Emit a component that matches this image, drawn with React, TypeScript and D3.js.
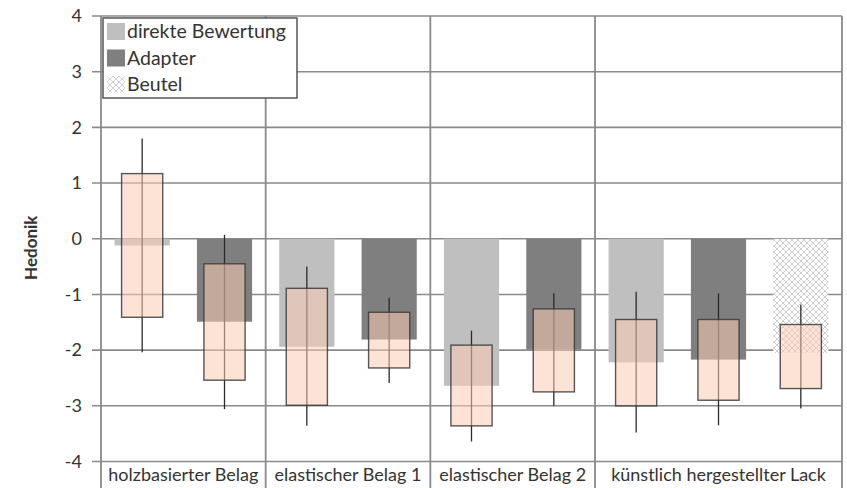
import React from "react";
import * as d3 from "d3";

const categories = ["holzbasierter Belag", "elastischer Belag 1", "elastischer Belag 2", "künstlich hergestellter Lack"];
const seriesNames = ["direkte Bewertung", "Adapter", "Beutel"];
// slot -> [category index, series index]
const slotCategory = [0, 0, 1, 1, 2, 2, 3, 3, 3];
const slotSeries = [0, 1, 0, 1, 0, 1, 0, 1, 2];
const meanValues = [-0.12, -1.49, -1.94, -1.81, -2.64, -1.99, -2.22, -2.17, -2.05];
const boxTop = [1.17, -0.45, -0.89, -1.32, -1.91, -1.26, -1.45, -1.45, -1.54];
const boxBottom = [-1.41, -2.54, -2.99, -2.32, -3.36, -2.75, -3.0, -2.9, -2.69];
const whiskerTop = [1.8, 0.07, -0.5, -1.06, -1.65, -0.98, -0.95, -0.98, -1.18];
const whiskerBottom = [-2.04, -3.06, -3.36, -2.59, -3.64, -3.0, -3.48, -3.35, -3.05];
const yTicks = [4, 3, 2, 1, 0, -1, -2, -3, -4];

const W = 847;
const H = 488;
const FONT = "Lato, 'Open Sans', sans-serif";
const seriesFill = ["#bfbfbf", "#7f7f7f", "url(#hatch)"];

export default function App() {
  const x = d3.scaleBand<number>().domain(d3.range(slotSeries.length)).range([101, 842]).padding(0);
  const y = d3.scaleLinear().domain([-4, 4]).range([461.5, 16]);
  const bw = x.bandwidth();
  const barW = bw * 0.67;
  const boxW = bw * 0.5;

  // category boundaries
  const catStart = categories.map((_, c) => x(slotCategory.indexOf(c))!);
  const catEnd = categories.map((_, c) => x(slotCategory.lastIndexOf(c))! + bw);
  const gridColor = "#8a8a8a";

  return (
    <svg width={W} height={H} style={{ position: "absolute", left: 0, top: 0, background: "#fff" }}>
      <defs>
        <pattern id="hatch" width="6" height="6" patternUnits="userSpaceOnUse">
          <rect width="6" height="6" fill="#fff" />
          <path d="M0,0 L6,6 M6,0 L0,6" stroke="#cfcfcf" strokeWidth="1" />
        </pattern>
      </defs>
      <rect width={W} height={H} fill="#fff" />
      {/* horizontal gridlines */}
      {yTicks.map((t) => (
        <line key={"g" + t} x1={92} x2={842} y1={y(t)} y2={y(t)} stroke={gridColor} strokeWidth={1.6} />
      ))}
      {/* vertical separators */}
      {catStart.map((cx, i) => (
        <line key={"v" + i} x1={cx} x2={cx} y1={y(4)} y2={H} stroke={gridColor} strokeWidth={1.8} />
      ))}
      <line x1={catEnd[3]} x2={catEnd[3]} y1={y(4)} y2={H} stroke={gridColor} strokeWidth={1.8} />
      {/* mean bars */}
      {meanValues.map((v, i) => (
        <rect
          key={"b" + i}
          x={x(i)! + (bw - barW) / 2}
          y={y(Math.max(0, v))}
          width={barW}
          height={Math.abs(y(v) - y(0))}
          fill={seriesFill[slotSeries[i]]}
        />
      ))}
      {/* whiskers */}
      {whiskerTop.map((v, i) => (
        <line
          key={"w" + i}
          x1={x(i)! + bw / 2}
          x2={x(i)! + bw / 2}
          y1={y(v)}
          y2={y(whiskerBottom[i])}
          stroke="#2a2a2a"
          strokeWidth={1.3}
        />
      ))}
      {/* boxes */}
      {boxTop.map((v, i) => (
        <rect
          key={"x" + i}
          x={x(i)! + (bw - boxW) / 2}
          y={y(v)}
          width={boxW}
          height={y(boxBottom[i]) - y(v)}
          fill="#fbccb3"
          fillOpacity={0.55}
          stroke="#3a3a3a"
          strokeOpacity={0.85}
          strokeWidth={1.4}
        />
      ))}
      {/* tick labels */}
      {yTicks.map((t) => (
        <text key={"t" + t} x={82} y={y(t)} dy="0.35em" textAnchor="end" fontFamily={FONT} fontSize={18} fill="#333">
          {t}
        </text>
      ))}
      <text
        transform={`translate(37,${y(0) + 9}) rotate(-90)`}
        textAnchor="middle"
        fontFamily={FONT}
        fontSize={17}
        fontWeight="bold"
        fill="#333"
      >
        Hedonik
      </text>
      {/* category labels */}
      {categories.map((c, i) => (
        <text
          key={"c" + i}
          x={(catStart[i] + catEnd[i]) / 2}
          y={481}
          textAnchor="middle"
          fontFamily={FONT}
          fontSize={18}
          fill="#333"
        >
          {c}
        </text>
      ))}
      {/* legend */}
      <g>
        <rect x={103} y={18} width={194} height={80} fill="#fff" stroke="#555" strokeWidth={1.5} />
        {seriesNames.map((s, i) => (
          <g key={"l" + i} transform={`translate(107,${23 + i * 26.5})`}>
            <rect width={18} height={17} fill={seriesFill[i]} />
            <text x={20} y={8.5} dy="0.35em" fontFamily={FONT} fontSize={19.5} fill="#333">
              {s}
            </text>
          </g>
        ))}
      </g>
    </svg>
  );
}
